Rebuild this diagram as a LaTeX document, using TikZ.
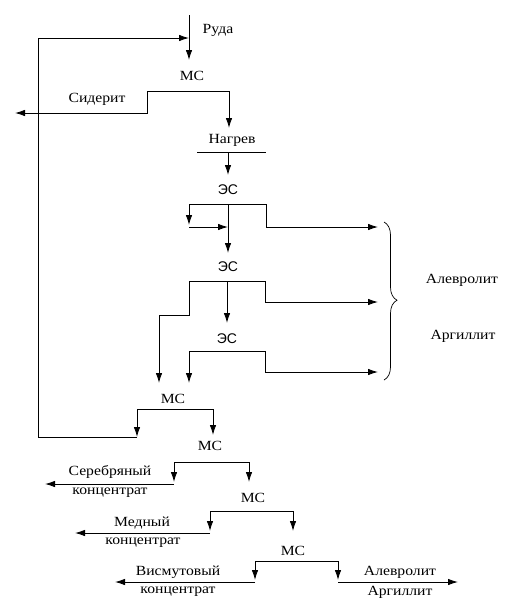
\documentclass[tikz,border=0pt]{standalone}
\usepackage{fontspec}
\setmainfont{Liberation Serif}[FakeStretch=1.12]
\newfontfamily\sansf{Liberation Sans}
\usetikzlibrary{arrows.meta,decorations.pathreplacing}
\begin{document}
\begin{tikzpicture}[x=1pt,y=-1pt,
  line width=0.9pt,
  arr/.style={-{Latex[length=10pt,width=6.5pt]}},
  lbl/.style={inner sep=0pt,font=\fontsize{14}{14}\selectfont},
  es/.style={inner sep=0pt,font=\sansf\fontsize{14}{14}\selectfont}]
\useasboundingbox (0,0) rectangle (524,603);
% top
\coordinate (in) at (189,15);
\coordinate (loopin) at (189,38);
\coordinate (ms1in) at (189,60);
\node[lbl] (ruda) at (218,30) {Руда};
\node[lbl] (ms1) at (192,76) {МС};
\draw[arr] (in) -- (ms1in);
% MS1 outputs
\coordinate (b1l) at (147,91);
\coordinate (b1r) at (229,91);
\coordinate (sidout) at (15,113);
\coordinate (heatin) at (229,128);
\draw (b1l) -- (b1r);
\draw[arr] (b1r) -- (heatin);
\draw[arr] (b1l) |- (sidout);
\node[lbl] (sid) at (97,99) {Сидерит};
% heating
\node[lbl] (heat) at (232,140) {Нагрев};
\coordinate (hl) at (197,152);
\coordinate (hr) at (266,152);
\draw (hl) -- (hr);
\coordinate (hc) at (228,152);
\coordinate (es1in) at (228,175);
\draw[arr] (hc) -- (es1in);
% ES1
\node[es] (es1) at (228,190) {ЭС};
\coordinate (e1l) at (189,204);
\coordinate (e1c) at (228,204);
\coordinate (e1r) at (266,204);
\draw (e1l) -- (e1r);
\coordinate (es2in) at (228,253);
\draw[arr] (e1c) -- (es2in);
\coordinate (e1ld) at (189,225);
\draw[arr] (e1l) -- (e1ld);
\coordinate (e1lb) at (189,227);
\coordinate (e1cb) at (228,227);
\draw[arr] (e1lb) -- (e1cb);
\coordinate (t1) at (378,227);
\draw[arr] (e1r) |- (t1);
% ES2
\node[es] (es2) at (228,267) {ЭС};
\coordinate (e2l) at (189,281);
\coordinate (e2c) at (227,281);
\coordinate (e2r) at (265,281);
\draw (e2l) -- (e2r);
\coordinate (es3in) at (227,323);
\draw[arr] (e2c) -- (es3in);
\coordinate (t2) at (378,302);
\draw[arr] (e2r) |- (t2);
\coordinate (e2lk) at (189,315);
\coordinate (ms2inA) at (159,383);
\draw[arr] (e2l) -- (e2lk) -| (ms2inA);
% ES3
\node[es] (es3) at (227,339) {ЭС};
\coordinate (e3l) at (189,351);
\coordinate (e3r) at (265,351);
\draw (e3l) -- (e3r);
\coordinate (ms2inB) at (189,383);
\draw[arr] (e3l) -- (ms2inB);
\coordinate (t3) at (378,372);
\draw[arr] (e3r) |- (t3);
% brace
\coordinate (brt) at (384,222);
\coordinate (brb) at (384,380);
\draw[line width=0.7pt,decorate,decoration={brace,amplitude=13pt,aspect=0.495}] (brt) -- (brb);
\node[lbl] (alev1) at (462,280) {Алевролит};
\node[lbl] (arg1) at (463,336) {Аргиллит};
% MS2
\node[lbl] (ms2) at (173,399) {МС};
\coordinate (m2l) at (137,409);
\coordinate (m2r) at (213,409);
\draw (m2l) -- (m2r);
\coordinate (m2lo) at (137,437);
\coordinate (ms3in) at (213,435);
\draw[arr] (m2l) -- (m2lo);
\draw[arr] (m2r) -- (ms3in);
\coordinate (loopc) at (38,437);
\draw[arr] (m2lo) -- (loopc) |- (loopin);
% MS3
\node[lbl] (ms3) at (210,446) {МС};
\coordinate (m3l) at (174,462);
\coordinate (m3r) at (249,462);
\draw (m3l) -- (m3r);
\coordinate (m3ld) at (174,482);
\coordinate (ms4in) at (249,482);
\draw[arr] (m3l) -- (m3ld);
\draw[arr] (m3r) -- (ms4in);
\coordinate (m3h) at (174,484);
\coordinate (agout) at (45,484);
\draw[arr] (m3h) -- (agout);
\node[lbl] (ag1) at (110,472) {Серебряный};
\node[lbl] (ag2) at (110,493) {концентрат};
% MS4
\node[lbl] (ms4) at (253,498) {МС};
\coordinate (m4l) at (210,511);
\coordinate (m4r) at (293,511);
\draw (m4l) -- (m4r);
\coordinate (m4ld) at (210,531);
\coordinate (ms5in) at (293,531);
\draw[arr] (m4l) -- (m4ld);
\draw[arr] (m4r) -- (ms5in);
\coordinate (m4h) at (210,533);
\coordinate (cuout) at (75,533);
\draw[arr] (m4h) -- (cuout);
\node[lbl] (cu1) at (142,523) {Медный};
\node[lbl] (cu2) at (143,543) {концентрат};
% MS5
\node[lbl] (ms5) at (293,551) {МС};
\coordinate (m5l) at (255,561);
\coordinate (m5r) at (338,561);
\draw (m5l) -- (m5r);
\coordinate (m5ld) at (255,580);
\coordinate (m5rd) at (338,580);
\draw[arr] (m5l) -- (m5ld);
\draw[arr] (m5r) -- (m5rd);
\coordinate (m5lh) at (255,582);
\coordinate (biout) at (115,582);
\draw[arr] (m5lh) -- (biout);
\coordinate (m5rh) at (338,582);
\coordinate (tailout) at (458,582);
\draw[arr] (m5rh) -- (tailout);
\node[lbl] (bi1) at (178,572) {Висмутовый};
\node[lbl] (bi2) at (178,592) {концентрат};
\node[lbl] (al2) at (400,572) {Алевролит};
\node[lbl] (ar2) at (400,592) {Аргиллит};
\end{tikzpicture}
\end{document}
